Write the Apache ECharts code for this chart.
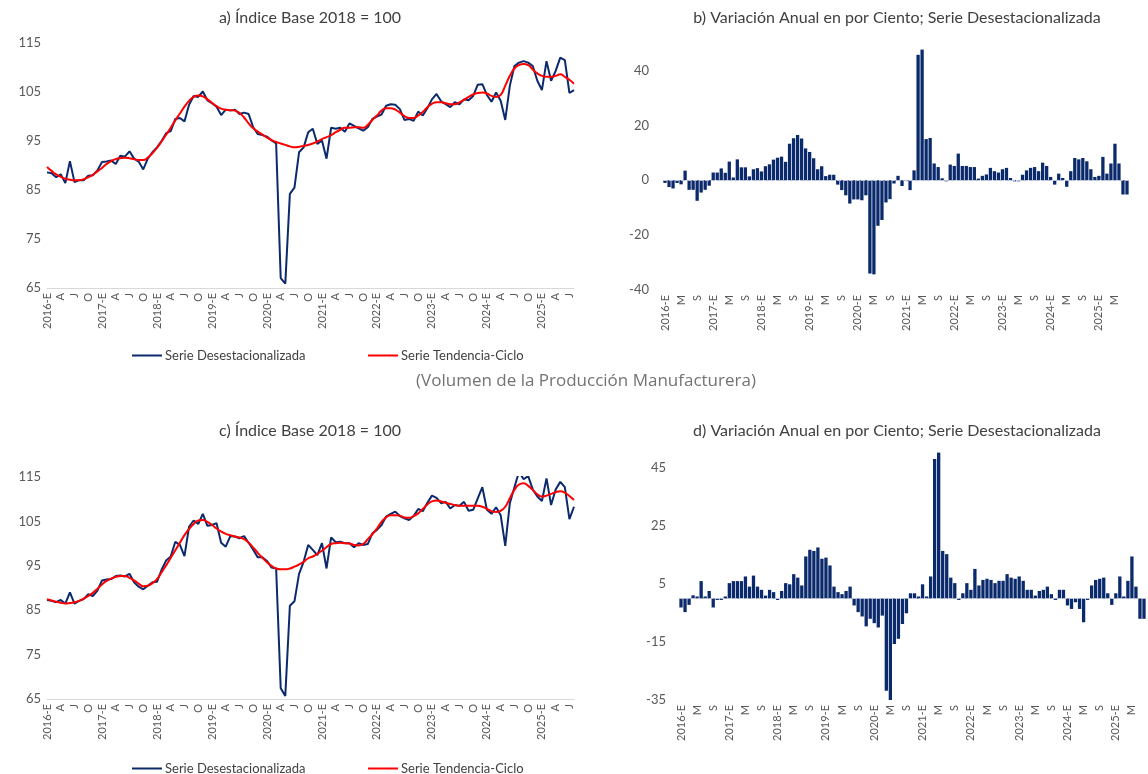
<!DOCTYPE html>
<html>
<head>
<meta charset="utf-8">
<script src="https://cdn.jsdelivr.net/npm/echarts@6/dist/echarts.min.js"></script>
<style>
  html, body { margin: 0; padding: 0; background: #ffffff; }
  #chart { width: 1148px; height: 774px; }
</style>
</head>
<body>
<div id="chart"></div>
<script>
// Monthly periods: January 2016 through August 2025 (116 months)
const years = [2016, 2017, 2018, 2019, 2020, 2021, 2022, 2023, 2024, 2025];
const monthInitials = ['E', 'F', 'M', 'A', 'M', 'J', 'J', 'A', 'S', 'O', 'N', 'D'];
const monthCount = 116;

// a) Índice base 2018 = 100 — seasonally adjusted series
const a_desestacionalizada = [
  88.6, 88.4, 87.6, 88.2, 86.4, 90.9, 86.6, 87.0, 87.0, 87.9, 88.0, 89.0,
  90.7, 90.8, 91.0, 90.3, 92.0, 91.8, 92.9, 91.4, 90.8, 89.2, 91.4, 92.7,
  93.7, 95.0, 96.6, 97.0, 99.5, 99.7, 99.0, 102.4, 104.2, 104.0, 105.1, 103.3,
  102.7, 102.0, 100.3, 101.4, 101.2, 101.4, 100.5, 100.8, 100.5, 97.8, 96.4, 96.2,
  95.9, 95.1, 94.5, 67.0, 65.9, 84.2, 85.5, 92.7, 93.7, 96.8, 97.5, 94.4,
  95.1, 91.4, 97.7, 97.5, 97.7, 96.9, 98.6, 98.1, 97.6, 97.1, 97.8, 99.5,
  100.0, 100.4, 102.2, 102.5, 102.4, 101.5, 99.3, 99.5, 99.1, 101.0, 100.2, 101.7,
  103.5, 104.6, 103.1, 102.5, 101.9, 102.9, 102.5, 103.5, 103.3, 104.2, 106.5, 106.6,
  104.4, 103.0, 104.9, 103.2, 99.3, 106.3, 110.3, 111.0, 111.3, 111.0, 110.3, 107.3,
  105.4, 111.3, 107.3, 109.3, 112.0, 111.5, 104.8, 105.4
];
// a) trend-cycle series
const a_tendencia = [
  89.7, 88.9, 88.2, 87.7, 87.3, 87.1, 87.0, 87.0, 87.2, 87.6, 88.1, 88.8,
  89.5, 90.3, 90.9, 91.3, 91.5, 91.6, 91.5, 91.3, 91.1, 91.1, 91.6, 92.5,
  93.6, 94.9, 96.3, 97.7, 99.2, 100.6, 102.0, 103.2, 104.0, 104.3, 104.1, 103.5,
  102.8, 102.1, 101.6, 101.4, 101.3, 101.2, 100.7, 99.8, 98.6, 97.6, 96.9, 96.3,
  95.7, 95.2, 94.8, 94.5, 94.2, 93.9, 93.7, 93.8, 94.0, 94.2, 94.5, 94.9,
  95.4, 95.8, 96.2, 96.8, 97.3, 97.7, 97.7, 97.8, 97.8, 97.7, 98.3, 99.3,
  100.2, 101.2, 101.7, 101.7, 101.4, 100.8, 100.1, 99.7, 99.7, 100.2, 100.9, 101.9,
  102.6, 102.9, 102.9, 102.7, 102.5, 102.5, 102.9, 103.4, 104.0, 104.5, 104.8, 104.9,
  104.7, 104.2, 104.0, 104.4, 106.3, 108.3, 109.8, 110.5, 110.7, 110.5, 109.6, 108.8,
  108.3, 108.1, 108.1, 108.3, 108.6, 108.1, 107.5, 106.7
];
// b) annual percent change, seasonally adjusted
const b_variacion = [
  -1.0, -2.5, -3.0, -1.0, -1.5, 3.5, -3.5, -3.5, -7.5, -4.5, -3.5, -2.0,
  2.8, 2.8, 4.3, 2.7, 6.8, 1.0, 7.6, 4.7, 4.7, 1.4, 4.0, 4.4,
  3.2, 5.1, 5.8, 7.5, 8.2, 8.6, 6.7, 13.3, 15.3, 16.5, 15.2, 11.6,
  10.3, 8.0, 4.0, 5.1, 1.5, 2.0, 2.0, -1.6, -3.6, -5.5, -8.5, -7.0,
  -7.0, -7.3, -5.5, -34.0, -34.3, -16.6, -14.5, -8.1, -6.9, -1.2, 1.6, -2.1,
  -0.3, -3.6, 3.6, 45.7, 47.6, 15.0, 15.4, 6.1, 4.8, 0.7, -0.4, 5.7,
  5.2, 9.7, 5.2, 5.2, 4.8, 4.8, 0.6, 1.6, 2.1, 4.5, 3.3, 2.8,
  4.0, 4.5, 0.8, -0.4, -0.4, 2.0, 3.6, 4.5, 4.8, 3.3, 6.4, 5.2,
  1.2, -1.6, 2.4, 0.8, -2.4, 3.3, 8.1, 7.6, 8.1, 6.9, 4.0, 1.2,
  1.6, 8.5, 2.4, 6.1, 13.3, 6.1, -5.2, -5.2
];
// c) Índice base 2018 = 100 — manufacturing, seasonally adjusted
const c_desestacionalizada = [
  87.3, 87.1, 86.8, 87.3, 86.5, 89.0, 86.5, 87.1, 87.5, 88.6, 88.2, 89.4,
  91.7, 91.9, 92.0, 92.7, 92.8, 92.6, 93.2, 91.3, 90.3, 89.7, 90.5, 91.3,
  91.4, 94.1, 96.2, 97.1, 100.4, 99.7, 97.2, 103.8, 105.2, 104.4, 106.7, 104.0,
  104.2, 104.6, 100.2, 99.3, 101.7, 101.6, 101.2, 101.7, 100.2, 98.6, 96.9, 96.9,
  96.1, 94.6, 94.4, 67.4, 65.7, 86.0, 87.0, 93.2, 95.9, 99.7, 98.6, 97.4,
  100.1, 94.4, 101.4, 100.3, 100.4, 100.1, 100.1, 99.2, 100.1, 99.7, 99.9, 102.3,
  103.1, 104.2, 106.1, 106.7, 107.2, 106.2, 105.7, 105.3, 106.2, 107.8, 107.3, 109.2,
  110.8, 110.3, 109.1, 109.4, 107.9, 108.7, 108.5, 109.4, 107.4, 107.6, 110.2, 112.7,
  107.6, 106.7, 108.2, 106.4, 99.5, 109.1, 112.7, 116.2, 114.5, 115.2, 112.2, 110.6,
  109.6, 114.7, 108.7, 112.2, 113.9, 112.7, 105.5, 108.3
];
// c) manufacturing trend-cycle series
const c_tendencia = [
  87.5, 87.2, 86.9, 86.7, 86.5, 86.6, 86.8, 87.1, 87.6, 88.2, 88.9, 89.8,
  90.8, 91.6, 92.1, 92.5, 92.7, 92.7, 92.3, 91.7, 91.0, 90.4, 90.5, 91.1,
  92.0, 93.5, 95.1, 96.8, 98.5, 100.2, 101.9, 103.3, 104.4, 105.2, 105.3, 104.9,
  104.2, 103.4, 102.7, 102.2, 101.9, 101.6, 101.4, 101.0, 100.2, 99.1, 97.9, 96.8,
  95.8, 95.0, 94.4, 94.2, 94.2, 94.4, 94.8, 95.3, 95.9, 96.7, 97.1, 97.7,
  98.4, 99.2, 99.9, 100.1, 100.2, 100.1, 100.0, 99.7, 99.6, 99.9, 101.0, 102.1,
  103.4, 104.9, 105.9, 106.4, 106.4, 106.3, 105.9, 105.8, 106.2, 106.8, 107.8, 108.8,
  109.5, 109.7, 109.5, 109.2, 108.9, 108.7, 108.5, 108.5, 108.5, 108.5, 108.5, 108.3,
  107.8, 107.3, 107.1, 107.4, 108.3, 110.2, 112.1, 113.3, 113.6, 113.0, 112.1, 111.1,
  110.6, 110.8, 111.2, 111.6, 111.8, 111.5, 110.7, 109.8
];
// d) manufacturing annual percent change, seasonally adjusted
const d_variacion = [
  -3.1, -4.7, -2.2, 1.1, 0.7, 6.0, 0.7, 2.6, -3.1, -0.5, -0.5, 0.7,
  5.3, 6.0, 6.0, 6.0, 7.6, 4.1, 7.9, 4.1, 3.0, 1.0, 3.0, 2.2,
  -0.5, 2.6, 5.3, 4.9, 8.4, 7.2, 4.5, 14.5, 16.8, 16.4, 17.6, 13.7,
  14.1, 11.4, 4.1, 2.2, 1.5, 2.6, 4.1, -2.4, -4.7, -6.2, -9.6, -7.0,
  -8.5, -10.0, -5.9, -31.8, -35.1, -15.7, -13.9, -8.8, -5.1, 1.8, 1.8, 0.7,
  4.9, 0.7, 7.6, 48.1, 50.3, 16.4, 15.3, 7.2, 5.3, -0.5, 1.8, 5.3,
  3.0, 10.2, 4.5, 6.4, 6.8, 6.4, 5.3, 6.1, 6.1, 8.4, 7.2, 6.8,
  7.6, 6.1, 3.0, 3.0, 1.0, 2.6, 3.0, 4.1, 1.5, -0.5, 3.0, 3.0,
  -2.4, -3.6, -1.3, -3.6, -8.2, -0.5, 4.5, 6.4, 6.8, 7.2, 1.8, -2.2,
  1.8, 7.6, 0.7, 6.1, 14.5, 4.1, -7.0, -7.0
];

const SERIE_DESEST = 'Serie Desestacionalizada';
const SERIE_TEND = 'Serie Tendencia-Ciclo';

// Category labels: "2016-E" for each January, then month initials
const categories = [];
for (let i = 0; i < monthCount; i++) {
  const m = i % 12;
  const y = years[Math.floor(i / 12)];
  categories.push(m === 0 ? y + '-E' : monthInitials[m]);
}

const FONT = 'Lato';
const NAVY = '#0b2a6c';
const RED = '#ff0000';
const TEXT_DARK = '#404040';
const TEXT_AXIS = '#595959';

function catAxis(gridIndex, boundaryGap, every, showLine) {
  return {
    type: 'category', gridIndex: gridIndex, data: categories, boundaryGap: boundaryGap,
    axisLine: { show: showLine, onZero: false, lineStyle: { color: '#d9d9d9', width: 1 } },
    axisTick: { show: false },
    axisLabel: {
      interval: every - 1, rotate: 90, margin: 5,
      fontFamily: FONT, fontSize: 11, color: TEXT_AXIS
    },
    splitLine: { show: false }
  };
}
function valAxis(gridIndex, min, max, interval, margin) {
  return {
    type: 'value', gridIndex: gridIndex, min: min, max: max, interval: interval,
    axisLine: { show: false }, axisTick: { show: false }, splitLine: { show: false },
    axisLabel: { margin: margin, fontFamily: FONT, fontSize: 13, color: TEXT_AXIS, showMaxLabel: Number.isInteger((max - min) / interval) }
  };
}
function lineSeries(name, data, axis, color, smooth, z) {
  return {
    name: name, type: 'line', data: data, xAxisIndex: axis, yAxisIndex: axis,
    symbol: 'none', smooth: smooth, z: z,
    lineStyle: { color: color, width: 2 }, itemStyle: { color: color }
  };
}
function barSeries(data, axis) {
  return {
    type: 'bar', data: data, xAxisIndex: axis, yAxisIndex: axis,
    barCategoryGap: '18%',
    itemStyle: { color: NAVY },
    markLine: {
      silent: true, symbol: 'none', label: { show: false },
      lineStyle: { color: '#b9c0d6', type: 'dashed', width: 1 },
      data: [{ yAxis: 0 }]
    }
  };
}
function legendItem(name, color, left, top) {
  return {
    data: [{ name: name, icon: 'rect', itemStyle: { color: color } }],
    left: left, top: top, itemWidth: 30, itemHeight: 2, itemGap: 0, selectedMode: false,
    textStyle: { fontFamily: FONT, fontSize: 13, color: TEXT_DARK, padding: [0, 0, 0, -2] }
  };
}
function panelTitle(text, cx, top, size, color, family) {
  return {
    text: text, left: cx, top: top, textAlign: 'center',
    textStyle: { fontFamily: family || FONT, fontSize: size, fontWeight: 'normal', color: color }
  };
}

const chart = echarts.init(document.getElementById('chart'), null, { renderer: 'canvas' });
chart.setOption({
  animation: false,
  backgroundColor: '#ffffff',
  title: [
    panelTitle('a) Índice Base 2018 = 100', 305, 5, 16, TEXT_DARK),
    panelTitle('b) Variación Anual en por Ciento; Serie Desestacionalizada', 892, 5, 16, TEXT_DARK),
    panelTitle('(Volumen de la Producción Manufacturera)', 581, 368, 17, '#737373', 'Open Sans'),
    panelTitle('c) Índice Base 2018 = 100', 305, 418, 16, TEXT_DARK),
    panelTitle('d) Variación Anual en por Ciento; Serie Desestacionalizada', 892, 418, 16, TEXT_DARK)
  ],
  legend: [
    legendItem(SERIE_DESEST, NAVY, 127, 344),
    legendItem(SERIE_TEND, RED, 363, 344),
    legendItem(SERIE_DESEST, NAVY, 127, 757),
    legendItem(SERIE_TEND, RED, 363, 757)
  ],
  grid: [
    { left: 47, top: 43, width: 527, height: 245 },
    { left: 663, top: 43, width: 466, height: 247 },
    { left: 47, top: 477, width: 527, height: 222 },
    { left: 679, top: 439, width: 467, height: 261 }
  ],
  xAxis: [
    catAxis(0, false, 3, true),
    catAxis(1, true, 4, false),
    catAxis(2, false, 3, true),
    catAxis(3, true, 4, false)
  ],
  yAxis: [
    valAxis(0, 65, 115, 10, 6),
    valAxis(1, -40, 50, 20, 14),
    valAxis(2, 65, 115, 10, 6),
    valAxis(3, -35, 55, 20, 13)
  ],
  series: [
    lineSeries(SERIE_DESEST, a_desestacionalizada, 0, NAVY, false, 2),
    lineSeries(SERIE_TEND, a_tendencia, 0, RED, true, 3),
    barSeries(b_variacion, 1),
    lineSeries(SERIE_DESEST, c_desestacionalizada, 2, NAVY, false, 2),
    lineSeries(SERIE_TEND, c_tendencia, 2, RED, true, 3),
    barSeries(d_variacion, 3)
  ]
});
</script>
</body>
</html>
